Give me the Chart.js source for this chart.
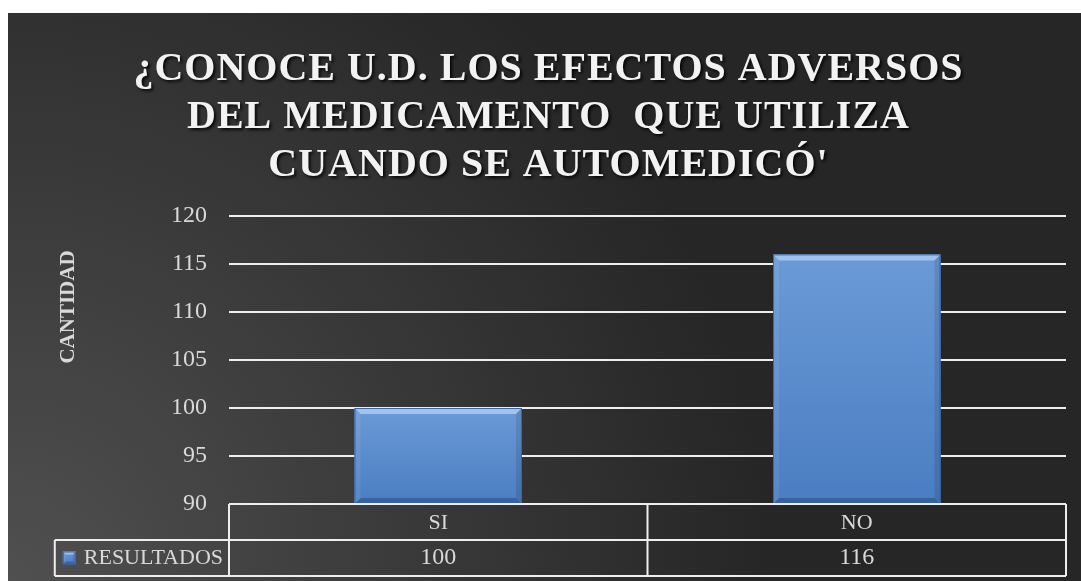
<!DOCTYPE html>
<html>
<head>
<meta charset="utf-8">
<script src="https://cdn.jsdelivr.net/npm/chart.js@4.4.1/dist/chart.umd.min.js"></script>
<style>
  html, body { margin: 0; padding: 0; background: #ffffff; }
  #wrap { position: absolute; left: 8px; top: 13px; width: 1073px; height: 568px; }
</style>
</head>
<body>
<div id="wrap"><canvas id="chart"></canvas></div>
<script>
const titleLines = ["¿CONOCE U.D. LOS EFECTOS ADVERSOS", "DEL MEDICAMENTO  QUE UTILIZA", "CUANDO SE AUTOMEDICÓ'"];
const axisTitle = "CANTIDAD";
const categories = ["SI", "NO"];
const seriesName = "RESULTADOS";
const resultados = [100, 116];
const yTicks = [90, 95, 100, 105, 110, 115, 120];

const textColor = "#d9d9d9";
const lineColor = "#eeeeee";
const serif = "'Liberation Serif', 'Times New Roman', serif";

function poly(ctx, pts, fill) {
  ctx.beginPath();
  ctx.moveTo(pts[0][0], pts[0][1]);
  for (let i = 1; i < pts.length; i++) ctx.lineTo(pts[i][0], pts[i][1]);
  ctx.closePath();
  ctx.fillStyle = fill;
  ctx.fill();
}

// blue box with the bevelled edges of the original bars
function drawBevelBox(ctx, l, t, r, b, s) {
  const face = ctx.createLinearGradient(0, t, 0, b);
  face.addColorStop(0, "#6b9ad6");
  face.addColorStop(1, "#4a7dc2");
  ctx.save();
  ctx.fillStyle = face;
  ctx.fillRect(l, t, r - l, b - t);
  poly(ctx, [[l, t], [r, t], [r - s, t + s], [l + s, t + s]], "rgba(195,222,255,0.6)");
  poly(ctx, [[l, b], [r, b], [r - s, b - s], [l + s, b - s]], "rgba(20,50,100,0.35)");
  poly(ctx, [[l, t], [l + s, t + s], [l + s, b - s], [l, b]], "rgba(255,255,255,0.08)");
  poly(ctx, [[r, t], [r - s, t + s], [r - s, b - s], [r, b]], "rgba(0,0,0,0.10)");
  ctx.strokeStyle = "#3d659e";
  ctx.lineWidth = 1;
  ctx.strokeRect(l + 0.5, t + 0.5, r - l - 1, b - t - 1);
  ctx.restore();
}

const backgroundPlugin = {
  id: "background",
  beforeDraw(chart) {
    const ctx = chart.ctx;
    const w = chart.width, h = chart.height;
    const g = ctx.createRadialGradient(0, h, 0, 0, h, 760);
    g.addColorStop(0, "#505050");
    g.addColorStop(1, "#262626");
    ctx.save();
    ctx.fillStyle = g;
    ctx.fillRect(0, 0, w, h);
    ctx.restore();
  }
};

// letter spacing + drop shadow for the chart title
const titleStylePlugin = {
  id: "titleStyle",
  beforeDraw(chart) {
    const block = chart.titleBlock;
    if (!block || block._styled) return;
    const draw = block.draw;
    block.draw = function () {
      const ctx = this.ctx;
      ctx.save();
      ctx.letterSpacing = "1px";
      ctx.shadowColor = "rgba(0,0,0,0.85)";
      ctx.shadowOffsetX = 2;
      ctx.shadowOffsetY = 2;
      ctx.shadowBlur = 3;
      draw.apply(this, arguments);
      ctx.restore();
    };
    block._styled = true;
  }
};

const bevelPlugin = {
  id: "bevel",
  afterDatasetsDraw(chart) {
    const ctx = chart.ctx;
    const area = chart.chartArea;
    chart.getDatasetMeta(0).data.forEach((bar) => {
      const p = bar.getProps(["x", "y", "base", "width"], true);
      const top = Math.max(p.y, area.top);
      const bottom = Math.min(p.base, area.bottom);
      drawBevelBox(ctx, p.x - p.width / 2, top, p.x + p.width / 2, bottom, 6);
    });
  }
};

// data table under the plot (category row comes from the x axis ticks)
const dataTablePlugin = {
  id: "dataTable",
  afterDraw(chart) {
    const ctx = chart.ctx;
    const x = chart.scales.x;
    const area = chart.chartArea;
    const rowH = x.height;
    const top = area.bottom, mid = top + rowH, bottom = mid + rowH;
    ctx.save();
    ctx.font = "22px " + serif;
    const key = 13, gap = 8;
    const labelW = ctx.measureText(seriesName).width;
    const cellLeft = area.left - labelW - key - gap * 2 - 6;

    ctx.strokeStyle = lineColor;
    ctx.lineWidth = 2;
    ctx.beginPath();
    ctx.moveTo(area.left, top); ctx.lineTo(area.right, top);
    ctx.moveTo(cellLeft, mid); ctx.lineTo(area.right, mid);
    ctx.moveTo(cellLeft, bottom); ctx.lineTo(area.right, bottom);
    ctx.moveTo(cellLeft, mid); ctx.lineTo(cellLeft, bottom);
    const edges = [area.left];
    for (let i = 1; i < categories.length; i++) {
      edges.push((x.getPixelForValue(i - 1) + x.getPixelForValue(i)) / 2);
    }
    edges.push(area.right);
    edges.forEach((e) => { ctx.moveTo(e, top); ctx.lineTo(e, bottom); });
    ctx.stroke();

    ctx.fillStyle = textColor;
    ctx.textBaseline = "middle";
    const keyX = cellLeft + gap;
    drawBevelBox(ctx, keyX, mid + rowH / 2 - key / 2, keyX + key, mid + rowH / 2 + key / 2, 3);
    ctx.textAlign = "left";
    ctx.fillText(seriesName, keyX + key + gap, mid + rowH / 2);

    ctx.font = "24px " + serif;
    ctx.textAlign = "center";
    resultados.forEach((v, i) => ctx.fillText(String(v), x.getPixelForValue(i), mid + rowH / 2));
    ctx.restore();
  }
};

const axisCaptionPlugin = {
  id: "axisCaption",
  afterDraw(chart) {
    const ctx = chart.ctx;
    const area = chart.chartArea;
    ctx.save();
    ctx.translate(61, area.top + 91);
    ctx.rotate(-Math.PI / 2);
    ctx.font = "bold 21px " + serif;
    ctx.fillStyle = textColor;
    ctx.textAlign = "center";
    ctx.textBaseline = "middle";
    ctx.fillText(axisTitle, 0, 0);
    ctx.restore();
  }
};

new Chart(document.getElementById("chart"), {
  type: "bar",
  data: {
    labels: categories,
    datasets: [{
      label: seriesName,
      data: resultados,
      backgroundColor: "#5a8bcf",
      borderWidth: 0,
      categoryPercentage: 1,
      barPercentage: 0.4
    }]
  },
  options: {
    responsive: true,
    maintainAspectRatio: false,
    animation: false,
    layout: { padding: { left: 23, right: 15, top: 0, bottom: 41 } },
    plugins: {
      legend: { display: false },
      tooltip: { enabled: false },
      title: {
        display: true,
        text: titleLines,
        color: "#f2f2f2",
        font: { family: serif, size: 40, weight: "bold", lineHeight: 1.2 },
        padding: { top: 33, bottom: 26 }
      }
    },
    scales: {
      x: {
        grid: { display: false, drawTicks: false },
        border: { display: false },
        ticks: { color: textColor, font: { family: serif, size: 22 }, padding: 6 },
        afterFit(s) { s.height = 36; }
      },
      y: {
        min: yTicks[0],
        max: yTicks[yTicks.length - 1],
        grid: { color: lineColor, lineWidth: 2, drawTicks: false },
        border: { display: false },
        ticks: { stepSize: yTicks[1] - yTicks[0], color: textColor, font: { family: serif, size: 24 }, padding: 22 },
        afterFit(s) { s.width = 198; }
      }
    }
  },
  plugins: [backgroundPlugin, titleStylePlugin, bevelPlugin, dataTablePlugin, axisCaptionPlugin]
});
</script>
</body>
</html>
